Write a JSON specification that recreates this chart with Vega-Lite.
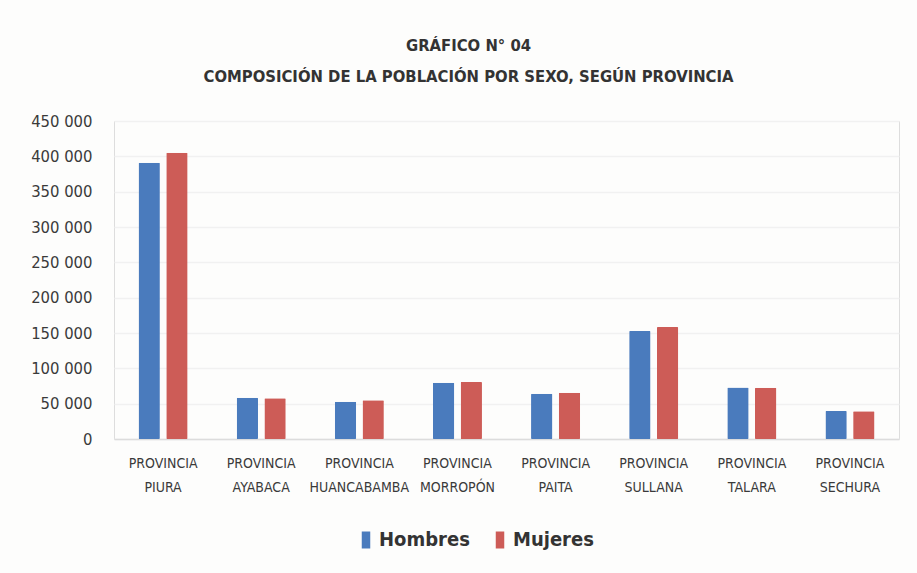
{
  "$schema": "https://vega.github.io/schema/vega-lite/v6.json",
  "autosize": {"type": "none"},
  "width": 785,
  "height": 318,
  "padding": {"left": 114, "top": 121, "right": 18, "bottom": 134},
  "background": "#fdfdfc",
  "title": {
    "text": ["GRÁFICO N° 04", "COMPOSICIÓN DE LA POBLACIÓN POR SEXO, SEGÚN PROVINCIA"],
    "anchor": "middle",
    "dx": -38,
    "offset": 28,
    "font": "Liberation Sans Narrow, DejaVu Sans Condensed, Roboto Condensed, sans-serif",
    "fontSize": 16.5,
    "fontWeight": "bold",
    "color": "#333333",
    "lineHeight": 31
  },
  "data": {
    "values": [
      {"provincia": "PROVINCIA PIURA", "sexo": "Hombres", "poblacion": 391000},
      {"provincia": "PROVINCIA PIURA", "sexo": "Mujeres", "poblacion": 405000},
      {"provincia": "PROVINCIA AYABACA", "sexo": "Hombres", "poblacion": 58500},
      {"provincia": "PROVINCIA AYABACA", "sexo": "Mujeres", "poblacion": 57500},
      {"provincia": "PROVINCIA HUANCABAMBA", "sexo": "Hombres", "poblacion": 52800},
      {"provincia": "PROVINCIA HUANCABAMBA", "sexo": "Mujeres", "poblacion": 54700},
      {"provincia": "PROVINCIA MORROPÓN", "sexo": "Hombres", "poblacion": 79700},
      {"provincia": "PROVINCIA MORROPÓN", "sexo": "Mujeres", "poblacion": 80600},
      {"provincia": "PROVINCIA PAITA", "sexo": "Hombres", "poblacion": 64100},
      {"provincia": "PROVINCIA PAITA", "sexo": "Mujeres", "poblacion": 65500},
      {"provincia": "PROVINCIA SULLANA", "sexo": "Hombres", "poblacion": 152800},
      {"provincia": "PROVINCIA SULLANA", "sexo": "Mujeres", "poblacion": 158500},
      {"provincia": "PROVINCIA TALARA", "sexo": "Hombres", "poblacion": 72800},
      {"provincia": "PROVINCIA TALARA", "sexo": "Mujeres", "poblacion": 72500},
      {"provincia": "PROVINCIA SECHURA", "sexo": "Hombres", "poblacion": 39600},
      {"provincia": "PROVINCIA SECHURA", "sexo": "Mujeres", "poblacion": 39400}
    ]
  },
  "mark": {"type": "bar", "cornerRadius": 1},
  "encoding": {
    "x": {
      "field": "provincia",
      "type": "nominal",
      "sort": null,
      "scale": {"paddingInner": 0.5, "paddingOuter": 0.25},
      "axis": {
        "title": null,
        "labelAngle": 0,
        "labelExpr": "split(datum.label, ' ')",
        "labelFont": "Liberation Sans Narrow, DejaVu Sans Condensed, Roboto Condensed, sans-serif",
        "labelFontSize": 14,
        "labelColor": "#3a3a3a",
        "labelLineHeight": 24,
        "labelPadding": 17,
        "ticks": false,
        "domainColor": "#dcdcdc",
        "domainWidth": 1.5
      }
    },
    "xOffset": {
      "field": "sexo",
      "type": "nominal",
      "scale": {"paddingInner": 0.23}
    },
    "y": {
      "field": "poblacion",
      "type": "quantitative",
      "scale": {"domain": [0, 450000]},
      "axis": {
        "title": null,
        "values": [0, 50000, 100000, 150000, 200000, 250000, 300000, 350000, 400000, 450000],
        "labelExpr": "replace(format(datum.value, ','), ',', ' ')",
        "labelFont": "Liberation Sans Narrow, DejaVu Sans Condensed, Roboto Condensed, sans-serif",
        "labelFontSize": 16.5,
        "labelColor": "#3a3a3a",
        "labelPadding": 22,
        "domain": false,
        "ticks": false,
        "gridColor": "#f1f1f1",
        "gridWidth": 1.5
      }
    },
    "color": {
      "field": "sexo",
      "type": "nominal",
      "scale": {"domain": ["Hombres", "Mujeres"], "range": ["#4a7bbd", "#cd5c57"]},
      "legend": {
        "title": null,
        "orient": "none",
        "direction": "horizontal",
        "legendX": 242,
        "legendY": 409,
        "symbolType": "M-0.5,-1H0.5V1H-0.5Z",
        "symbolSize": 289,
        "symbolStrokeWidth": 0,
        "labelFont": "Liberation Sans Narrow, DejaVu Sans Condensed, Roboto Condensed, sans-serif",
        "labelFontSize": 20,
        "labelFontWeight": "bold",
        "labelColor": "#333333",
        "labelOffset": 3,
        "columnPadding": 20
      }
    }
  }
}
